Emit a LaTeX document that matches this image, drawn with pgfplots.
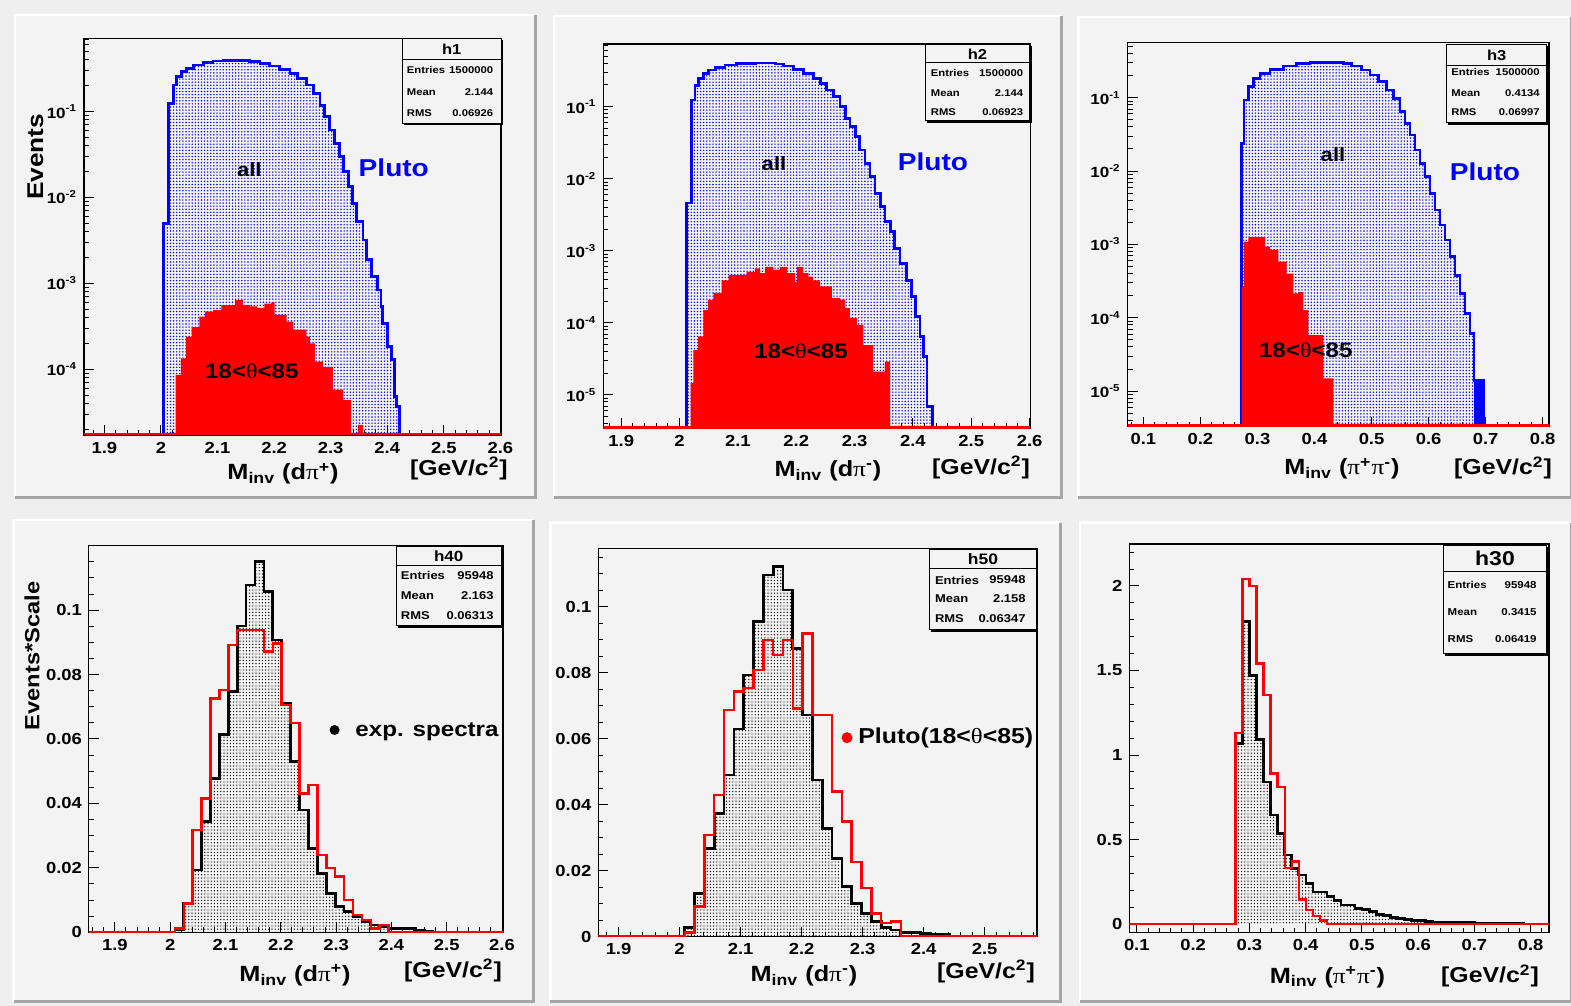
\documentclass[border=0pt]{standalone}
\usepackage{fontspec}
\setmainfont{Liberation Sans}[FakeStretch=1.15]
\newfontfamily\symf{Liberation Serif}[FakeStretch=1.15]
\usepackage{pgfplots}
\usepackage{pgfplotstable}
\pgfplotsset{compat=1.18}
\usetikzlibrary{patterns,patterns.meta}
\definecolor{outerbg}{HTML}{EFEFEF}
\definecolor{padbg}{HTML}{F3F3F3}
\definecolor{padshadow}{HTML}{A5A5A5}
\definecolor{rootblue}{HTML}{0000FF}
\definecolor{rootred}{HTML}{FF0000}
\newcommand{\fs}[1]{\fontsize{#1}{#1}\selectfont}
\newcommand{\thet}{{\symf\mdseries θ}}
\newcommand{\piS}{{\symf\mdseries π}}
\newcommand{\ex}[1]{10\textsuperscript{\fs{5}#1}}
\newcommand{\txt}[4][]{\node[inner sep=0pt,#1] at (#2,{1006-#3}) {#4};}
\newcommand{\pad}[4]{%
 \fill[padbg] (#1,{1006-#4}) rectangle (#3,{1006-#2});
 \draw[white,line width=1.2pt] (#1,{1006-#4}) -- (#1,{1006-#2}) -- (#3,{1006-#2});
 \draw[padshadow,line width=1.5pt] (#1,{1006-#4}) -- (#3,{1006-#4}) -- (#3,{1006-#2});}
\newcommand{\statbox}[5]{%
 \fill[padbg] (#1,{1006-#4}) rectangle (#3,{1006-#2});
 \draw[black,line width=0.5pt] (#1,{1006-#4}) rectangle (#3,{1006-#2});
 \draw[black,line width=1.1pt] ({#1+1.5},{1006-#4-1}) -- ({#3+1},{1006-#4-1}) -- ({#3+1},{1006-#2-1.5});
 \draw[black,line width=0.5pt] (#1,{1006-#5}) -- (#3,{1006-#5});}
\newcommand{\strow}[6]{\txt[anchor=west]{#1}{#3}{\fs{#4}\bfseries #5}\txt[anchor=east]{#2}{#3}{\fs{#4}\bfseries #6}}

\pgfplotsset{
 rootax/.style={scale only axis, anchor=south west,
  axis line style={black,line width=0.6pt},
  tick style={black,line width=0.5pt},
  major tick length=5pt, minor tick length=2.5pt,
  tick align=inside, xtick pos=left, ytick pos=left,
  ticklabel style={font=\bfseries\fs{8}},
  scaled ticks=false,
  axis background/.style={fill=padbg}},
 logax/.style={
  ytick={1e-6,1e-5,1e-4,1e-3,1e-2,1e-1,1},
  yticklabels={\ex{-6},\ex{-5},\ex{-4},\ex{-3},\ex{-2},\ex{-1},1},
  yticklabel style={font=\bfseries\fs{7.4}},
  minor ytick={2e-7,3e-7,4e-7,5e-7,6e-7,7e-7,8e-7,9e-7,2e-6,3e-6,4e-6,5e-6,6e-6,7e-6,8e-6,9e-6,2e-5,3e-5,4e-5,5e-5,6e-5,7e-5,8e-5,9e-5,2e-4,3e-4,4e-4,5e-4,6e-4,7e-4,8e-4,9e-4,2e-3,3e-3,4e-3,5e-3,6e-3,7e-3,8e-3,9e-3,2e-2,3e-2,4e-2,5e-2,6e-2,7e-2,8e-2,9e-2,0.2,0.3,0.4,0.5,0.6,0.7,0.8,0.9}},
 dxax/.style={xtick={1.9,2,2.1,2.2,2.3,2.4,2.5,2.6}, xticklabels={1.9,2,2.1,2.2,2.3,2.4,2.5,2.6}, minor xtick={1.82,1.84,...,2.6}},
 ppax/.style={xtick={0.1,0.2,0.3,0.4,0.5,0.6,0.7,0.8}, xticklabels={0.1,0.2,0.3,0.4,0.5,0.6,0.7,0.8}, minor xtick={0.06,0.08,...,0.84}},
 bluefill/.style={const plot, draw=none, pattern={Dots[distance=1.55pt,radius=0.4pt]}, pattern color=rootblue},
 blueline/.style={const plot, rootblue, line width=1.4pt},
 redfill/.style={const plot, fill=rootred, draw=none},
 blackfill/.style={const plot, draw=none, pattern={Dots[distance=1.6pt,radius=0.35pt]}, pattern color=black},
 blackline/.style={const plot, black, line width=1.35pt},
 redline/.style={const plot, rootred, line width=1.25pt}
}

% ---------------- data ----------------
\pgfplotstableread[row sep=\\]{x y\\
2.004 1e-7\\ 2.004 0.0050\\ 2.013 0.125\\ 2.022 0.204\\ 2.028 0.255\\ 2.036 0.292\\ 2.045 0.319\\ 2.057 0.349\\ 2.075 0.372\\ 2.092 0.389\\ 2.110 0.393\\ 2.133 0.395\\ 2.157 0.382\\ 2.175 0.365\\ 2.192 0.340\\ 2.210 0.311\\ 2.228 0.279\\ 2.242 0.244\\ 2.257 0.204\\ 2.269 0.163\\ 2.281 0.119\\ 2.289 0.0874\\ 2.298 0.0611\\ 2.307 0.0427\\ 2.316 0.0299\\ 2.322 0.0200\\ 2.331 0.0134\\ 2.339 0.00857\\ 2.345 0.00524\\ 2.357 0.00321\\ 2.363 0.00188\\ 2.372 0.0012\\ 2.383 8.4e-4\\ 2.389 5.4e-4\\ 2.392 3.4e-4\\ 2.401 1.84e-4\\ 2.407 1.29e-4\\ 2.413 4.8e-5\\ 2.416 3.7e-5\\ 2.422 1e-7\\}\blueA
\pgfplotstableread[row sep=\\]{x y\\
2.026 1e-7\\ 2.026 8.6e-5\\ 2.035 1.34e-4\\ 2.044 2.4e-4\\ 2.054 3.1e-4\\ 2.068 4.1e-4\\ 2.078 4.7e-4\\ 2.092 4.9e-4\\ 2.107 5.6e-4\\ 2.131 6.4e-4\\ 2.145 5.6e-4\\ 2.157 5.4e-4\\ 2.170 5.2e-4\\ 2.183 5.8e-4\\ 2.195 6.0e-4\\ 2.201 4.3e-4\\ 2.222 3.6e-4\\ 2.234 2.9e-4\\ 2.257 2.4e-4\\ 2.263 2.0e-4\\ 2.272 1.23e-4\\ 2.286 1.07e-4\\ 2.304 5.8e-5\\ 2.322 4.4e-5\\ 2.336 1e-7\\ 2.348 2.25e-5\\ 2.357 1e-7\\}\redA
\pgfplotstableread[row sep=\\]{x y\\
2.012 1e-7\\ 2.012 4.6e-3\\ 2.021 0.124\\ 2.0265 0.199\\ 2.032 0.247\\ 2.041 0.290\\ 2.049 0.322\\ 2.061 0.351\\ 2.078 0.378\\ 2.098 0.399\\ 2.130 0.402\\ 2.164 0.391\\ 2.178 0.367\\ 2.195 0.330\\ 2.212 0.290\\ 2.229 0.247\\ 2.241 0.210\\ 2.252 0.170\\ 2.264 0.138\\ 2.275 0.100\\ 2.284 0.0689\\ 2.292 0.0528\\ 2.301 0.0384\\ 2.309 0.0251\\ 2.318 0.0164\\ 2.3265 0.0107\\ 2.335 0.00628\\ 2.344 0.0041\\ 2.352 0.00254\\ 2.361 0.00185\\ 2.369 0.00108\\ 2.378 6.7e-4\\ 2.389 3.9e-4\\ 2.398 2.3e-4\\ 2.404 1.22e-4\\ 2.412 6.5e-5\\ 2.418 3.4e-5\\ 2.424 6.9e-6\\ 2.434 1e-7\\}\blueB
\pgfplotstableread[row sep=\\]{x y\\
2.019 1e-7\\ 2.019 1.46e-5\\ 2.0236 4.2e-5\\ 2.032 6.5e-5\\ 2.041 1.51e-4\\ 2.049 2.08e-4\\ 2.058 2.6e-4\\ 2.072 3.9e-4\\ 2.084 4.6e-4\\ 2.115 5.1e-4\\ 2.129 5.7e-4\\ 2.138 4.9e-4\\ 2.1465 6.0e-4\\ 2.161 5.5e-4\\ 2.172 6.0e-4\\ 2.184 4.9e-4\\ 2.198 3.7e-4\\ 2.201 6.0e-4\\ 2.212 4.9e-4\\ 2.221 4.4e-4\\ 2.229 3.9e-4\\ 2.241 3.2e-4\\ 2.261 2.2e-4\\ 2.275 2.1e-4\\ 2.284 1.6e-4\\ 2.292 1.16e-4\\ 2.304 9.4e-5\\ 2.315 4.9e-5\\ 2.332 2.1e-5\\ 2.352 2.9e-5\\ 2.361 1e-7\\}\redB
\pgfplotstableread[row sep=\\]{x y\\
0.2724 1e-7\\ 0.2724 0.0239\\ 0.2764 0.093\\ 0.284 0.141\\ 0.2928 0.184\\ 0.3045 0.215\\ 0.322 0.244\\ 0.3454 0.270\\ 0.3688 0.294\\ 0.3922 0.300\\ 0.420 0.302\\ 0.4506 0.294\\ 0.4652 0.270\\ 0.4828 0.239\\ 0.4974 0.204\\ 0.512 0.166\\ 0.5266 0.127\\ 0.5383 0.098\\ 0.550 0.0646\\ 0.5587 0.0447\\ 0.5675 0.031\\ 0.5763 0.0194\\ 0.585 0.0127\\ 0.5938 0.0084\\ 0.6026 0.00497\\ 0.6113 0.00294\\ 0.6201 0.00184\\ 0.6289 0.00115\\ 0.6376 6.8e-4\\ 0.6464 3.8e-4\\ 0.6552 2.15e-4\\ 0.6639 1.15e-4\\ 0.6727 6.1e-5\\ 0.6797 1.41e-5\\ 0.6961 1e-7\\}\blueC
\pgfplotstableread[row sep=\\]{x y\\
0.6797 1e-7\\ 0.6797 1.41e-5\\ 0.6961 1e-7\\}\blueCs
\pgfplotstableread[row sep=\\]{x y\\
0.2724 1e-7\\ 0.2724 2.65e-4\\ 0.2764 1.09e-3\\ 0.284 1.27e-3\\ 0.3133 9.3e-4\\ 0.322 8.4e-4\\ 0.3367 5.8e-4\\ 0.3513 4.0e-4\\ 0.363 2.15e-4\\ 0.3717 2.26e-4\\ 0.3805 1.27e-4\\ 0.3893 5.8e-5\\ 0.4156 1.49e-5\\ 0.4331 1e-7\\}\redC
\pgfplotstableread[row sep=\\]{x y\\
1.853 0\\ 2.0085 0.0008\\ 2.0246 0.0090\\ 2.0407 0.0193\\ 2.0568 0.0343\\ 2.0729 0.0478\\ 2.0890 0.0613\\ 2.1051 0.0747\\ 2.1212 0.0951\\ 2.1373 0.1078\\ 2.1534 0.1150\\ 2.1695 0.1057\\ 2.1856 0.0907\\ 2.2017 0.0711\\ 2.2178 0.0530\\ 2.2339 0.0380\\ 2.2500 0.0261\\ 2.2661 0.0183\\ 2.2822 0.0121\\ 2.2983 0.0080\\ 2.3144 0.0064\\ 2.3305 0.0049\\ 2.3466 0.0033\\ 2.3627 0.0023\\ 2.3788 0.0018\\ 2.3949 0.0012\\ 2.4110 0.0012\\ 2.4271 0.0012\\ 2.4432 0.0007\\ 2.4593 0.0004\\ 2.4754 0\\ 2.6018 0\\}\blackD
\pgfplotstableread[row sep=\\]{x y\\
1.853 0\\ 2.0085 0.0012\\ 2.0246 0.0090\\ 2.0407 0.0318\\ 2.0568 0.0416\\ 2.0729 0.0726\\ 2.0890 0.0752\\ 2.1051 0.0892\\ 2.1212 0.0938\\ 2.1373 0.0938\\ 2.1534 0.0938\\ 2.1695 0.0871\\ 2.1856 0.0897\\ 2.2017 0.0706\\ 2.2178 0.0649\\ 2.2339 0.0431\\ 2.2500 0.0457\\ 2.2661 0.0240\\ 2.2822 0.0199\\ 2.2983 0.0173\\ 2.3144 0.0100\\ 2.3305 0.0054\\ 2.3466 0.0038\\ 2.3627 0.0012\\ 2.3788 0.0023\\ 2.3949 0\\ 2.6018 0\\}\redD
\pgfplotstableread[row sep=\\]{x y\\
1.8668 0\\ 2.0085 0.0027\\ 2.0246 0.0131\\ 2.0407 0.0268\\ 2.0568 0.0374\\ 2.0729 0.0490\\ 2.0890 0.0629\\ 2.1051 0.0793\\ 2.1212 0.0955\\ 2.1373 0.1096\\ 2.1534 0.1121\\ 2.1695 0.1051\\ 2.1856 0.0874\\ 2.2017 0.0672\\ 2.2178 0.0475\\ 2.2339 0.0328\\ 2.2500 0.0238\\ 2.2661 0.0152\\ 2.2822 0.0101\\ 2.2983 0.0071\\ 2.3144 0.0046\\ 2.3305 0.0027\\ 2.3466 0.0020\\ 2.3627 0.0012\\ 2.3788 0.0012\\ 2.3949 0.0010\\ 2.4110 0.0008\\ 2.4271 0.0006\\ 2.4432 0\\ 2.5859 0\\}\blackE
\pgfplotstableread[row sep=\\]{x y\\
1.8668 0\\ 2.0085 0.0013\\ 2.0246 0.0091\\ 2.0407 0.0308\\ 2.0568 0.0429\\ 2.0729 0.0687\\ 2.0890 0.0743\\ 2.1051 0.0753\\ 2.1212 0.0808\\ 2.1373 0.0899\\ 2.1534 0.0854\\ 2.1695 0.0899\\ 2.1856 0.0692\\ 2.2017 0.0919\\ 2.2178 0.0672\\ 2.2339 0.0672\\ 2.2500 0.0440\\ 2.2661 0.0349\\ 2.2822 0.0227\\ 2.2983 0.0147\\ 2.3144 0.0071\\ 2.3305 0.0041\\ 2.3466 0.0046\\ 2.3627 0\\ 2.5859 0\\}\redE
\pgfplotstableread[row sep=\\]{x y\\
0.0867 0\\ 0.2755 1.07\\ 0.288 1.79\\ 0.3005 1.47\\ 0.313 1.09\\ 0.3255 0.84\\ 0.338 0.645\\ 0.3505 0.535\\ 0.363 0.408\\ 0.3755 0.33\\ 0.388 0.29\\ 0.4005 0.24\\ 0.413 0.19\\ 0.4255 0.19\\ 0.438 0.162\\ 0.4505 0.138\\ 0.463 0.112\\ 0.4755 0.112\\ 0.488 0.093\\ 0.5005 0.085\\ 0.513 0.073\\ 0.5255 0.055\\ 0.538 0.049\\ 0.5505 0.038\\ 0.563 0.034\\ 0.5755 0.028\\ 0.588 0.022\\ 0.6005 0.02\\ 0.613 0.015\\ 0.6255 0.012\\ 0.638 0.010\\ 0.6505 0.010\\ 0.663 0.008\\ 0.6755 0.008\\ 0.688 0.007\\ 0.7005 0.006\\ 0.713 0.006\\ 0.7255 0.005\\ 0.738 0.005\\ 0.7505 0.004\\ 0.763 0.004\\ 0.7755 0.003\\ 0.788 0\\ 0.8326 0\\}\blackF
\pgfplotstableread[row sep=\\]{x y\\
0.0867 0\\ 0.2755 1.13\\ 0.288 2.04\\ 0.3005 2.0\\ 0.313 1.54\\ 0.3255 1.355\\ 0.338 0.89\\ 0.3505 0.81\\ 0.363 0.33\\ 0.3755 0.37\\ 0.388 0.146\\ 0.4005 0.083\\ 0.413 0.047\\ 0.4255 0.02\\ 0.438 0\\ 0.8326 0\\}\redF

\begin{document}
\begin{tikzpicture}[x=0.5pt,y=0.5pt]
\path[use as bounding box, fill=outerbg] (0,0) rectangle (1571,1006);
\pad{15}{15}{535}{498}
\pad{553.7}{16}{1061.7}{498}
\pad{1078.3}{17}{1571}{498}
\pad{13.5}{520}{533}{1002}
\pad{550.3}{522.7}{1060}{1002}
\pad{1080}{522.7}{1571}{1002}

% ---------- A ----------
\begin{axis}[ymode=log, rootax, logax, dxax, at={(42pt,285.5pt)}, width=208.5pt, height=198.35pt,
 xmin=1.864, xmax=2.601, ymin=1.72e-5, ymax=0.714]
\addplot[bluefill] table {\blueA};
\addplot[blueline] table {\blueA};
\addplot[redfill] table {\redA};
\addplot[rootred, line width=2.4pt] coordinates {(1.864,1.72e-5) (2.601,1.72e-5)};
\end{axis}
% ---------- B ----------
\begin{axis}[ymode=log, rootax, logax, dxax, at={(301.65pt,288.85pt)}, width=213.5pt, height=192.15pt,
 xmin=1.8693, xmax=2.6012, ymin=3.45e-6, ymax=0.74]
\addplot[bluefill] table {\blueB};
\addplot[blueline] table {\blueB};
\addplot[redfill] table {\redB};
\addplot[rootred, line width=2.4pt] coordinates {(1.8693,3.45e-6) (2.6012,3.45e-6)};
\end{axis}
% ---------- C ----------
\begin{axis}[ymode=log, rootax, logax, ppax, at={(563.85pt,289.65pt)}, width=210.65pt, height=192pt,
 xmin=0.0725, xmax=0.8111, ymin=3.27e-6, ymax=0.562]
\addplot[bluefill] table {\blueC};
\addplot[blueline] table {\blueC};
\addplot[const plot, fill=rootblue, draw=none] table {\blueCs};
\addplot[redfill] table {\redC};
\addplot[rootred, line width=2.4pt] coordinates {(0.0725,3.27e-6) (0.8111,3.27e-6)};
\end{axis}
% ---------- D ----------
\begin{axis}[rootax, dxax, at={(44.45pt,36.85pt)}, width=207.05pt, height=193.3pt,
 xmin=1.853, xmax=2.6018, ymin=0, ymax=0.12,
 ytick={0,0.02,0.04,0.06,0.08,0.1}, yticklabels={0,0.02,0.04,0.06,0.08,0.1},
 minor ytick={0,0.005,...,0.12}]
\addplot[blackfill] table {\blackD};
\addplot[blackline] table {\blackD};
\addplot[redline] table {\redD};
\end{axis}
% ---------- E ----------
\begin{axis}[rootax, at={(299.15pt,34.65pt)}, width=219.35pt, height=194.2pt,
 xmin=1.8668, xmax=2.5859, ymin=0, ymax=0.1177,
 xtick={1.9,2,2.1,2.2,2.3,2.4,2.5}, xticklabels={1.9,2,2.1,2.2,2.3,2.4,2.5}, minor xtick={1.88,1.90,...,2.58},
 ytick={0,0.02,0.04,0.06,0.08,0.1}, yticklabels={0,0.02,0.04,0.06,0.08,0.1},
 minor ytick={0,0.005,...,0.115}]
\addplot[blackfill] table {\blackE};
\addplot[blackline] table {\blackE};
\addplot[redline] table {\redE};
\end{axis}
% ---------- F ----------
\begin{axis}[rootax, ppax, at={(564.65pt,36.65pt)}, width=209.85pt, height=194.35pt,
 xmin=0.0867, xmax=0.8326, ymin=-0.0513, ymax=2.2485,
 ytick={0,0.5,1,1.5,2}, yticklabels={0,0.5,1,1.5,2},
 minor ytick={0,0.1,...,2.2}]
\addplot[blackfill] table {\blackF};
\addplot[blackline] table {\blackF};
\addplot[redline] table {\redF};
\end{axis}

% ---------- texts A ----------
\txt[rotate=90]{35.5}{156.7}{\fs{11.4}\bfseries Events}
\txt{249.3}{170}{\fs{9.6}\bfseries all}
\txt[text=rootblue]{393.8}{168}{\fs{12.2}\bfseries Pluto}
\txt{251.8}{371.7}{\fs{10.5}\bfseries 18<\thet<85}
\txt[anchor=base]{283}{480}{\fs{11}\bfseries M\textsubscript{inv} (d\piS\textsuperscript{+})}
\txt[anchor=base]{458.9}{475.5}{\fs{10.8}\bfseries [GeV/c\textsuperscript{2}]}
\statbox{402.2}{38.3}{501.3}{123.3}{59.3}
\txt{451.7}{49}{\fs{7.2}\bfseries h1}
\strow{406.5}{493.5}{70}{4.9}{Entries}{1500000}
\strow{406.5}{493.5}{91.7}{4.9}{Mean}{2.144}
\strow{406.5}{493.5}{113.3}{4.9}{RMS}{0.06926}
% ---------- texts B ----------
\txt{774}{164}{\fs{9.6}\bfseries all}
\txt[text=rootblue]{933}{161.7}{\fs{12.2}\bfseries Pluto}
\txt{801}{351}{\fs{10.5}\bfseries 18<\thet<85}
\txt[anchor=base]{828}{476.7}{\fs{11}\bfseries M\textsubscript{inv} (d\piS\textsuperscript{-})}
\txt[anchor=base]{981}{474.2}{\fs{10.8}\bfseries [GeV/c\textsuperscript{2}]}
\statbox{925.5}{45}{1029.6}{120.7}{62.7}
\txt{977.5}{54}{\fs{7.2}\bfseries h2}
\strow{930.5}{1023.5}{72.7}{4.9}{Entries}{1500000}
\strow{930.5}{1023.5}{93.3}{4.9}{Mean}{2.144}
\strow{930.5}{1023.5}{111.7}{4.9}{RMS}{0.06923}
% ---------- texts C ----------
\txt{1333}{155}{\fs{9.6}\bfseries all}
\txt[text=rootblue]{1485}{172}{\fs{12.2}\bfseries Pluto}
\txt{1305.8}{350}{\fs{10.5}\bfseries 18<\thet<85}
\txt[anchor=base]{1342}{475}{\fs{11}\bfseries M\textsubscript{inv} (\piS\textsuperscript{+}\piS\textsuperscript{-})}
\txt[anchor=base]{1503}{475}{\fs{10.8}\bfseries [GeV/c\textsuperscript{2}]}
\statbox{1446.7}{45}{1546.7}{122.7}{65.7}
\txt{1496.7}{55}{\fs{7.2}\bfseries h3}
\strow{1451}{1540}{72.3}{4.9}{Entries}{1500000}
\strow{1451}{1540}{92.7}{4.9}{Mean}{0.4134}
\strow{1451}{1540}{111.7}{4.9}{RMS}{0.06997}
% ---------- texts D ----------
\txt[rotate=90]{32}{655.8}{\fs{10.3}\bfseries Events*Scale}
\fill[black] (334.6,{1006-730}) circle (5);
\txt[anchor=base west]{355}{736.7}{\fs{10.5}\bfseries exp. spectra}
\txt[anchor=base]{295}{981.7}{\fs{11}\bfseries M\textsubscript{inv} (d\piS\textsuperscript{+})}
\txt[anchor=base]{453}{977.5}{\fs{10.8}\bfseries [GeV/c\textsuperscript{2}]}
\statbox{396.1}{546.7}{501.3}{626}{565.7}
\txt{448.7}{556}{\fs{7.4}\bfseries h40}
\strow{400.5}{494}{575.7}{5.65}{Entries}{95948}
\strow{400.5}{494}{595.7}{5.65}{Mean}{2.163}
\strow{400.5}{494}{615.7}{5.65}{RMS}{0.06313}
% ---------- texts E ----------
\fill[rootred] (847,{1006-737.7}) circle (5.5);
\txt[anchor=base west]{858}{743.3}{\fs{10.8}\bfseries Pluto(18<\thet<85)}
\txt[anchor=base]{804}{981.7}{\fs{11}\bfseries M\textsubscript{inv} (d\piS\textsuperscript{-})}
\txt[anchor=base]{986}{978.5}{\fs{10.8}\bfseries [GeV/c\textsuperscript{2}]}
\statbox{929.9}{550}{1036}{630}{569}
\txt{983}{559.5}{\fs{7.6}\bfseries h50}
\strow{934.6}{1026}{580}{5.65}{Entries}{95948}
\strow{934.6}{1026}{599}{5.65}{Mean}{2.158}
\strow{934.6}{1026}{618.3}{5.65}{RMS}{0.06347}
% ---------- texts F ----------
\txt[anchor=base]{1327.5}{983.3}{\fs{11}\bfseries M\textsubscript{inv} (\piS\textsuperscript{+}\piS\textsuperscript{-})}
\txt[anchor=base]{1490}{983}{\fs{10.8}\bfseries [GeV/c\textsuperscript{2}]}
\statbox{1443.3}{545.7}{1546.7}{654}{571.7}
\txt{1495}{558.7}{\fs{10}\bfseries h30}
\strow{1447.3}{1537}{585}{5}{Entries}{95948}
\strow{1447.3}{1537}{611.7}{5}{Mean}{0.3415}
\strow{1447.3}{1537}{639.3}{5}{RMS}{0.06419}
\end{tikzpicture}
\end{document}
